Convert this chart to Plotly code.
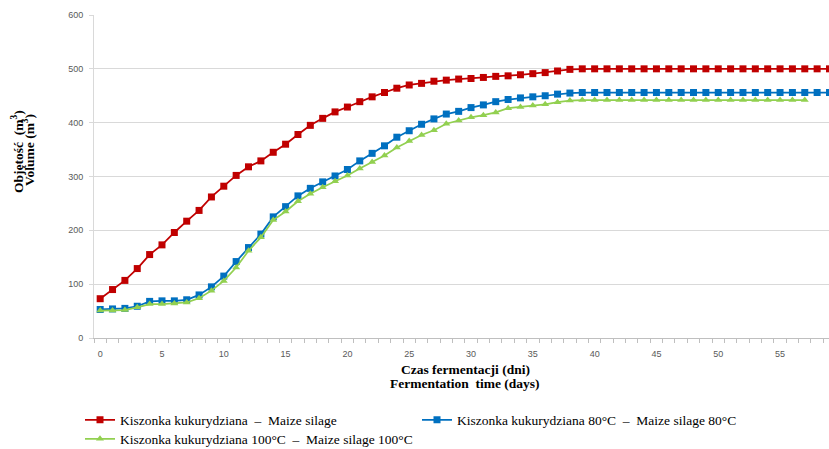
import plotly.graph_objects as go

days = list(range(60))
days_green = list(range(58))

maize = [73, 90, 107, 129, 155, 173, 196, 217, 237, 262,
         282, 302, 318, 329, 345, 360, 378, 395, 408, 420,
         429, 439, 448, 456, 464, 470, 473, 477, 479, 481,
         482, 484, 486, 487, 489, 491, 493, 496, 499, 500,
         500, 500, 500, 500, 500, 500, 500, 500, 500, 500,
         500, 500, 500, 500, 500, 500, 500, 500, 500, 500]

maize_80 = [53, 54, 55, 59, 68, 69, 69, 71, 80, 95,
            115, 142, 168, 193, 225, 244, 264, 278, 290, 301,
            313, 329, 343, 357, 373, 385, 397, 407, 416, 421,
            428, 433, 439, 443, 446, 448, 450, 453, 455, 456,
            456, 456, 456, 456, 456, 456, 456, 456, 456, 456,
            456, 456, 456, 456, 456, 456, 456, 456, 456, 456]

maize_100 = [51, 51, 52, 57, 63, 63, 64, 66, 74, 88,
             106, 131, 162, 187, 219, 235, 254, 268, 280, 291,
             302, 315, 327, 339, 354, 366, 377, 386, 398, 404,
             410, 414, 419, 427, 429, 432, 434, 438, 441, 442,
             442, 442, 442, 442, 442, 442, 442, 442, 442, 442,
             442, 442, 442, 442, 442, 442, 442, 442]

names = ["Kiszonka kukurydziana  \u2013  Maize silage",
         "Kiszonka kukurydziana 80\u00b0C  \u2013  Maize silage 80\u00b0C",
         "Kiszonka kukurydziana 100\u00b0C  \u2013  Maize silage 100\u00b0C"]

y_title = ["Objętość  (m<sup>3</sup>)", "Volume (m<sup>3</sup>)"]
x_title = ["Czas fermentacji (dni)", "Fermentation  time (days)"]

W, H = 829, 449
L, R, T, B = 94, 0, 15, 111
PW, PH = W - L - R, H - T - B
SERIF = "Liberation Serif"
SANS = "Liberation Sans"


def px_x(xp):
    return (xp - L) / PW


def px_y(yp):
    return (H - B - yp) / PH


fig = go.Figure()
fig.add_trace(go.Scatter(x=days, y=maize, name=names[0], mode="lines+markers",
                         line=dict(color="#c00000", width=1.75),
                         marker=dict(symbol="square", size=7, color="#c00000"),
                         legend="legend"))
fig.add_trace(go.Scatter(x=days, y=maize_80, name=names[1], mode="lines+markers",
                         line=dict(color="#0070c0", width=1.75),
                         marker=dict(symbol="square", size=7, color="#0070c0"),
                         legend="legend2"))
fig.add_trace(go.Scatter(x=days_green, y=maize_100, name=names[2], mode="lines+markers",
                         line=dict(color="#92d050", width=1.75),
                         marker=dict(symbol="triangle-up", size=7, color="#92d050"),
                         legend="legend3"))

legend_font = dict(family=SERIF, size=13.5, color="#000000")


def leg(xpx, ypx):
    return dict(x=px_x(xpx), y=px_y(ypx), xanchor="left", yanchor="middle",
                font=legend_font, bgcolor="rgba(0,0,0,0)", borderwidth=0,
                itemwidth=30, tracegroupgap=0)


title_font = dict(family=SERIF, size=13.5, color="#000")
annotations = [
    dict(text="<b>" + x_title[0] + "</b>", xref="paper", yref="paper",
         x=px_x(465), y=px_y(369), showarrow=False,
         xanchor="center", yanchor="middle", font=title_font),
    dict(text="<b>" + x_title[1] + "</b>", xref="paper", yref="paper",
         x=px_x(465), y=px_y(383), showarrow=False,
         xanchor="center", yanchor="middle", font=title_font),
    dict(text="<b>" + y_title[0] + "</b>", xref="paper", yref="paper",
         x=px_x(17), y=px_y(152), showarrow=False, textangle=-90,
         xanchor="center", yanchor="middle", font=title_font),
    dict(text="<b>" + y_title[1] + "</b>", xref="paper", yref="paper",
         x=px_x(28), y=px_y(150), showarrow=False, textangle=-90,
         xanchor="center", yanchor="middle", font=title_font),
]

fig.update_layout(
    width=W, height=H, autosize=False,
    margin=dict(l=L, r=R, t=T, b=B, pad=0, autoexpand=False),
    paper_bgcolor="white", plot_bgcolor="white",
    showlegend=True,
    legend=leg(80, 420),
    legend2=leg(417, 420),
    legend3=leg(80, 439),
    annotations=annotations,
    xaxis=dict(range=[-0.5, 58.96], tickmode="linear", tick0=0, dtick=5,
               ticks="", showgrid=False, zeroline=False,
               showline=True, linecolor="#bfbfbf", linewidth=1,
               tickfont=dict(family=SANS, size=9, color="#595959"),
               ticklabelstandoff=7,
               minor=dict(ticks="outside", tick0=-0.5, dtick=1,
                          ticklen=4, tickcolor="#bfbfbf", tickwidth=1, showgrid=False)),
    yaxis=dict(range=[0, 600], tickmode="linear", tick0=0, dtick=100,
               showgrid=True, gridcolor="#d9d9d9", gridwidth=1, zeroline=False,
               showline=True, linecolor="#d9d9d9", linewidth=1,
               ticks="outside", ticklen=4, tickcolor="#d9d9d9",
               tickfont=dict(family=SANS, size=9, color="#595959"),
               ticklabelstandoff=4),
)

fig.write_html("out.html",
               config={"displayModeBar": False, "staticPlot": True},
               post_script="document.body.style.margin='0';document.body.style.overflow='hidden';")
